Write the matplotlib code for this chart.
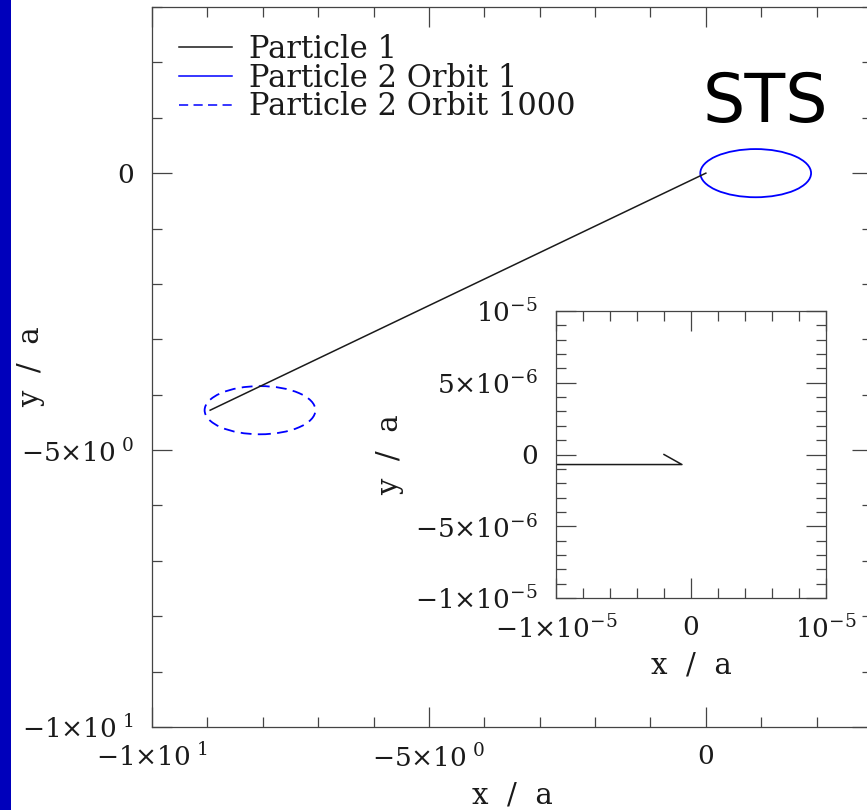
import matplotlib
matplotlib.use('Agg')
import matplotlib.pyplot as plt
from matplotlib.patches import Ellipse, Rectangle
from matplotlib.lines import Line2D
from matplotlib.ticker import MultipleLocator

plt.rcParams['font.family'] = ['DejaVu Serif']
plt.rcParams['mathtext.fontset'] = 'dejavuserif'

# particle 1 track, main panel
p1_x = [0.0, -8.95]
p1_y = [0.0, -4.28]

# particle 1 close to the origin, inset
p1_zoom_x = [-1.2e-5, -0.67e-6, -2.0e-6]
p1_zoom_y = [-0.7e-6, -0.7e-6, 0.0]

# particle 2 orbits (centre, full width, full height)
orbit_names = ['Particle 2 Orbit 1', 'Particle 2 Orbit 1000']
orbit_cx = [0.9, -8.05]
orbit_cy = [0.0, -4.28]
orbit_w = [2.0, 2.0]
orbit_h = [0.87, 0.87]

main_ticks = [-10, -5, 0]
main_tick_labels = [r'$-1{\times}10^{\ 1}$', r'$-5{\times}10^{\ 0}$', '0']
inset_xticks = [-1e-5, 0, 1e-5]
inset_xtick_labels = [r'$-1{\times}10^{-5}$', '0', r'$10^{-5}$']
inset_yticks = [-1e-5, -5e-6, 0, 5e-6, 1e-5]
inset_ytick_labels = [r'$-1{\times}10^{-5}$', r'$-5{\times}10^{-6}$', '0',
                      r'$5{\times}10^{-6}$', r'$10^{-5}$']

frame_col = '#444444'
text_col = '#1a1a1a'
dash = (0, (6, 3.5))


def style_axes(ax, tick_size):
    for s in ax.spines.values():
        s.set_color(frame_col)
        s.set_linewidth(0.9)
    ax.tick_params(which='both', direction='in', top=True, right=True,
                   color=frame_col, width=0.9, labelsize=tick_size,
                   labelcolor=text_col)
    ax.tick_params(which='major', length=14.4)
    ax.tick_params(which='minor', length=7.2)


fig = plt.figure(figsize=(8.67, 8.10), dpi=100)
fig.patches.append(Rectangle((0, 0), 11 / 867, 1, transform=fig.transFigure,
                             facecolor='#0000bb', edgecolor='none'))

# main panel
ax = fig.add_axes([152 / 867, 83 / 810, 720 / 867, 720 / 810])
ax.plot(p1_x, p1_y, color=text_col, lw=1.1)
ax.add_patch(Ellipse((orbit_cx[0], orbit_cy[0]), orbit_w[0], orbit_h[0],
                     fill=False, edgecolor='blue', lw=1.3))
ax.add_patch(Ellipse((orbit_cx[1], orbit_cy[1]), orbit_w[1], orbit_h[1],
                     fill=False, edgecolor='blue', lw=1.3, linestyle=dash))
ax.set_xlim(-10, 3)
ax.set_ylim(-10, 3)
ax.set_xticks(main_ticks, main_tick_labels)
ax.set_yticks(main_ticks, main_tick_labels)
ax.xaxis.set_minor_locator(MultipleLocator(1))
ax.yaxis.set_minor_locator(MultipleLocator(1))
style_axes(ax, 19)
ax.tick_params(axis='x', which='both', pad=12)
ax.tick_params(axis='y', which='both', pad=13)
ax.set_xlabel('x  /  a', fontsize=21, color=text_col, labelpad=7)
ax.set_ylabel('y  /  a', fontsize=21, color=text_col)
ax.yaxis.set_label_coords(-0.148, 0.5)

handles = [Line2D([], [], color=text_col, lw=1.1),
           Line2D([], [], color='blue', lw=1.1),
           Line2D([], [], color='blue', lw=1.1, linestyle=dash)]
labels = ['Particle 1'] + orbit_names
ax.legend(handles, labels, loc='upper left', bbox_to_anchor=(0.0375, 0.963),
          frameon=False, borderpad=0, borderaxespad=0, fontsize=22,
          handlelength=1.75, handletextpad=0.55, labelspacing=-0.07,
          labelcolor=text_col)

fig.text(703 / 867, (810 - 122) / 810, 'STS', fontsize=48,
         family='DejaVu Sans', color='black', va='baseline', ha='left')

# inset zoom on the origin
ins = fig.add_axes([556 / 867, 212 / 810, 270 / 867, 287 / 810])
ins.plot(p1_zoom_x, p1_zoom_y, color=text_col, lw=1.1)
ins.set_xlim(-1e-5, 1e-5)
ins.set_ylim(-1e-5, 1e-5)
ins.set_xticks(inset_xticks, inset_xtick_labels)
ins.set_yticks(inset_yticks, inset_ytick_labels)
ins.xaxis.set_minor_locator(MultipleLocator(2e-6))
ins.yaxis.set_minor_locator(MultipleLocator(1e-6))
style_axes(ins, 19)
ins.tick_params(axis='x', which='both', pad=12)
ins.tick_params(axis='y', which='both', pad=13)
ins.set_xlabel('x  /  a', fontsize=21, color=text_col, labelpad=6)
ins.set_ylabel('y  /  a', fontsize=21, color=text_col, labelpad=8)

fig.savefig('out.png', dpi=100)
